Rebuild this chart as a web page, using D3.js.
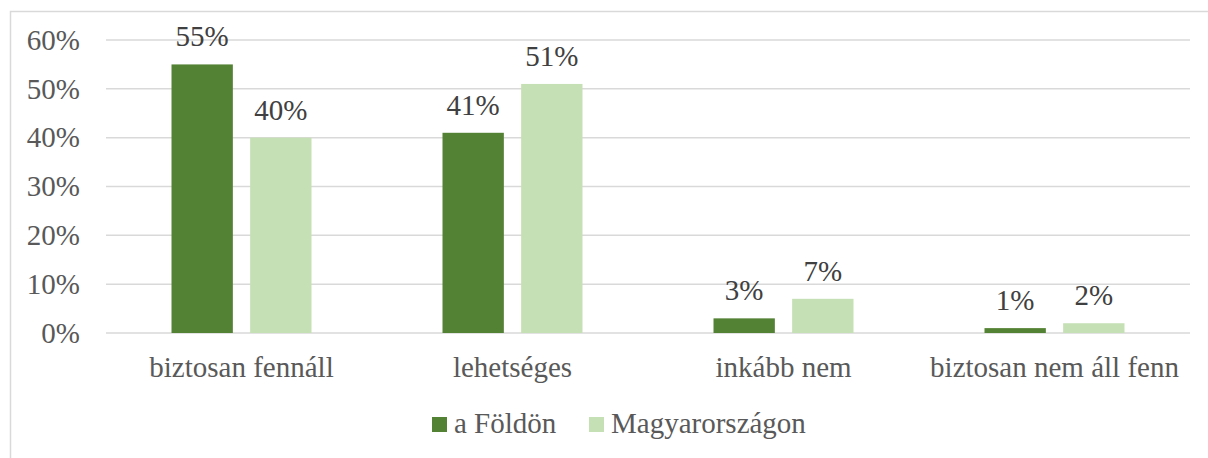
<!DOCTYPE html>
<html>
<head>
<meta charset="utf-8">
<script src="https://cdn.jsdelivr.net/npm/d3@7"></script>
<style>
  body { margin: 0; background: #fff; }
  svg { display: block; }
</style>
</head>
<body>
<div id="chart"></div>
<script>
// Data
const categories = ["biztosan fennáll", "lehetséges", "inkább nem", "biztosan nem áll fenn"];
const seriesNames = ["a Földön", "Magyarországon"];
const foldon = [55, 41, 3, 1];
const magyarorszagon = [40, 51, 7, 2];
const yTicks = [0, 10, 20, 30, 40, 50, 60];
const colors = ["#548235", "#C5E0B4"];

const FONT = '"Liberation Serif", "Times New Roman", serif';
const FS = "29px";

const W = 1208, H = 458;
const margin = { top: 40, right: 18, bottom: 125, left: 106 };
const width = W - margin.left - margin.right;
const height = 333 - margin.top;

const svg = d3.select("#chart").append("svg")
    .attr("width", W)
    .attr("height", H);

// Chart border (runs past the image on right/bottom)
svg.append("rect")
    .attr("x", 10.5).attr("y", 11.5)
    .attr("width", W + 20).attr("height", H + 20)
    .attr("fill", "none")
    .attr("stroke", "#D9D9D9")
    .attr("stroke-width", 1.5);

const g = svg.append("g")
    .attr("transform", `translate(${margin.left},${margin.top})`);

const xScale = d3.scaleBand().domain(categories).range([0, width]);
const xInner = d3.scaleBand().domain(seriesNames)
    .range([xScale.bandwidth() / 2 - 70, xScale.bandwidth() / 2 + 70])
    .paddingInner(0.22);
const yScale = d3.scaleLinear().domain([0, 60]).range([height, 0]);

// Gridlines
g.append("g")
    .selectAll("line")
    .data(yTicks)
    .enter().append("line")
    .attr("x1", 0).attr("x2", width)
    .attr("y1", d => yScale(d)).attr("y2", d => yScale(d))
    .attr("stroke", "#D9D9D9")
    .attr("stroke-width", 1.5);

// Y axis labels
const yAxis = d3.axisLeft(yScale).tickValues(yTicks).tickFormat(d => d + "%").tickSize(0).tickPadding(26);
const yAxisG = g.append("g").call(yAxis);
yAxisG.select(".domain").remove();
yAxisG.selectAll("text")
    .style("font-family", FONT)
    .style("font-size", FS)
    .attr("fill", "#595959");

// X axis labels
const xAxis = d3.axisBottom(xScale).tickSize(0).tickPadding(23);
const xAxisG = g.append("g").attr("transform", `translate(0,${height})`).call(xAxis);
xAxisG.select(".domain").remove();
xAxisG.selectAll("text")
    .style("font-family", FONT)
    .style("font-size", FS)
    .attr("fill", "#595959");

// Bars
const rows = categories.map((c, i) => ({ cat: c, vals: [foldon[i], magyarorszagon[i]] }));
const groups = g.selectAll(".grp")
    .data(rows)
    .enter().append("g")
    .attr("transform", d => `translate(${xScale(d.cat)},0)`);

groups.selectAll("rect")
    .data(d => d.vals.map((v, j) => ({ name: seriesNames[j], v: v, j: j })))
    .enter().append("rect")
    .attr("x", d => xInner(d.name))
    .attr("y", d => yScale(d.v))
    .attr("width", xInner.bandwidth())
    .attr("height", d => height - yScale(d.v))
    .attr("fill", d => colors[d.j]);

// Data labels
groups.selectAll(".lbl")
    .data(d => d.vals.map((v, j) => ({ name: seriesNames[j], v: v })))
    .enter().append("text")
    .attr("x", d => xInner(d.name) + xInner.bandwidth() / 2)
    .attr("y", d => yScale(d.v) - 18)
    .attr("text-anchor", "middle")
    .style("font-family", FONT)
    .style("font-size", FS)
    .attr("fill", "#404040")
    .text(d => d.v + "%");

// Legend
const legend = svg.append("g").attr("transform", "translate(432,417)");
const legendX = [0, 157];
seriesNames.forEach((name, i) => {
    const item = legend.append("g").attr("transform", `translate(${legendX[i]},0)`);
    item.append("rect")
        .attr("width", 15).attr("height", 15)
        .attr("fill", colors[i]);
    item.append("text")
        .attr("x", 22).attr("y", 16)
        .style("font-family", FONT)
        .style("font-size", FS)
        .attr("fill", "#595959")
        .text(name);
});
</script>
</body>
</html>
